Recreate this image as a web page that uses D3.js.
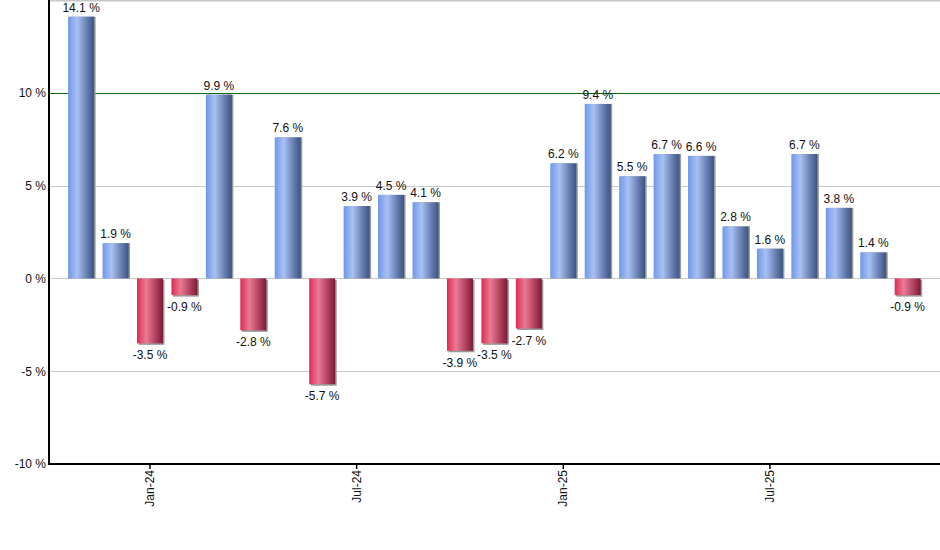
<!DOCTYPE html>
<html lang="en">
<head>
<meta charset="UTF-8">
<title>Monthly returns</title>
<script src="https://cdn.jsdelivr.net/npm/d3@7"></script>
<style>
    body { margin: 0; background: #fff; }
    text { font-family: "Liberation Sans", Arial, sans-serif; font-size: 12px; fill: #111; }
</style>
</head>
<body>
<div id="chart"></div>
<script>
    // monthly values, Nov-23 .. Nov-25
    const months = ["Nov-23","Dec-23","Jan-24","Feb-24","Mar-24","Apr-24","May-24","Jun-24","Jul-24",
        "Aug-24","Sep-24","Oct-24","Nov-24","Dec-24","Jan-25","Feb-25","Mar-25","Apr-25","May-25",
        "Jun-25","Jul-25","Aug-25","Sep-25","Oct-25","Nov-25"];
    const values = [14.1, 1.9, -3.5, -0.9, 9.9, -2.8, 7.6, -5.7, 3.9, 4.5, 4.1, -3.9, -3.5, -2.7,
        6.2, 9.4, 5.5, 6.7, 6.6, 2.8, 1.6, 6.7, 3.8, 1.4, -0.9];
    const xTicks = ["Jan-24", "Jul-24", "Jan-25", "Jul-25"];
    const yTicks = [-10, -5, 0, 5, 10];
    const yGrid = [-5, 0, 5, 10, 15];

    const width = 940, height = 550;
    const plotLeft = 49, plotRight = 939, plotTop = 0, plotBottom = 464;

    const svg = d3.select("#chart").append("svg")
        .attr("width", width)
        .attr("height", height);

    const defs = svg.append("defs");
    function gradient(id, stops) {
        const g = defs.append("linearGradient").attr("id", id)
            .attr("x1", "0%").attr("x2", "100%").attr("y1", "0%").attr("y2", "0%");
        stops.forEach(s => g.append("stop").attr("offset", s[0]).attr("stop-color", s[1]));
    }
    gradient("gUp", [["0%", "#6f98ea"], ["35%", "#a9c1f2"], ["70%", "#6a82b4"], ["100%", "#3b5480"]]);
    gradient("gDown", [["0%", "#dc2b55"], ["35%", "#ea7b93"], ["70%", "#b34462"], ["100%", "#7d1a34"]]);

    const x = d3.scaleBand()
        .domain(months)
        .range([63.9, 924.9])
        .paddingInner(0.245)
        .paddingOuter(0.1225);

    const y = d3.scaleLinear()
        .domain([-10, 15])
        .range([plotBottom, plotTop]);

    // grid lines
    svg.append("g").selectAll("line")
        .data(yGrid)
        .join("line")
            .attr("x1", plotLeft).attr("x2", plotRight + 1)
            .attr("y1", d => Math.round(y(d)) + 0.5)
            .attr("y2", d => Math.round(y(d)) + 0.5)
            .attr("stroke", d => d === 10 ? "#0b6b0b" : "#c8c8c8")
            .attr("stroke-width", d => d === 15 ? 2 : 1);

    // bars (shadow then gradient body)
    const bars = svg.append("g").selectAll("g")
        .data(values)
        .join("g");

    bars.append("rect")
        .attr("x", (d, i) => x(months[i]) + 1.5)
        .attr("y", d => Math.min(y(d), y(0)) + (d < 0 ? 1.5 : 0))
        .attr("width", x.bandwidth())
        .attr("height", d => Math.abs(y(d) - y(0)))
        .attr("fill", "#9a9a9a");

    bars.append("rect")
        .attr("x", (d, i) => x(months[i]))
        .attr("y", d => Math.min(y(d), y(0)))
        .attr("width", x.bandwidth())
        .attr("height", d => Math.abs(y(d) - y(0)))
        .attr("fill", d => d >= 0 ? "url(#gUp)" : "url(#gDown)");

    bars.append("text")
        .attr("x", (d, i) => x(months[i]) + x.bandwidth() / 2)
        .attr("y", d => d >= 0 ? y(d) - 5 : y(d) + 16)
        .attr("text-anchor", "middle")
        .text(d => d.toFixed(1) + " %");

    // axes
    const yAxis = svg.append("g")
        .attr("transform", `translate(${plotLeft},0)`)
        .call(d3.axisLeft(y).tickValues(yTicks).tickSize(0).tickPadding(3).tickFormat(d => d + " %"));
    yAxis.select(".domain").remove();
    yAxis.selectAll("text").style("font-size", "12px").attr("dy", "0.32em");

    const xAxis = svg.append("g")
        .attr("transform", `translate(0,${plotBottom})`)
        .call(d3.axisBottom(x).tickValues(xTicks).tickSize(5).tickSizeOuter(0));
    xAxis.select(".domain").remove();
    xAxis.selectAll(".tick line").attr("stroke", "#000").attr("stroke-width", 1.5);
    xAxis.selectAll("text")
        .attr("transform", "rotate(-90)")
        .attr("text-anchor", "end")
        .attr("x", -6)
        .attr("y", 0)
        .attr("dy", "0.35em")
        .style("font-size", "12px");

    svg.append("line")
        .attr("x1", plotLeft).attr("x2", plotLeft)
        .attr("y1", 0).attr("y2", plotBottom + 1)
        .attr("stroke", "#000").attr("stroke-width", 2);
    svg.append("line")
        .attr("x1", plotLeft).attr("x2", plotRight + 1)
        .attr("y1", plotBottom).attr("y2", plotBottom)
        .attr("stroke", "#000").attr("stroke-width", 2);
</script>
</body>
</html>
